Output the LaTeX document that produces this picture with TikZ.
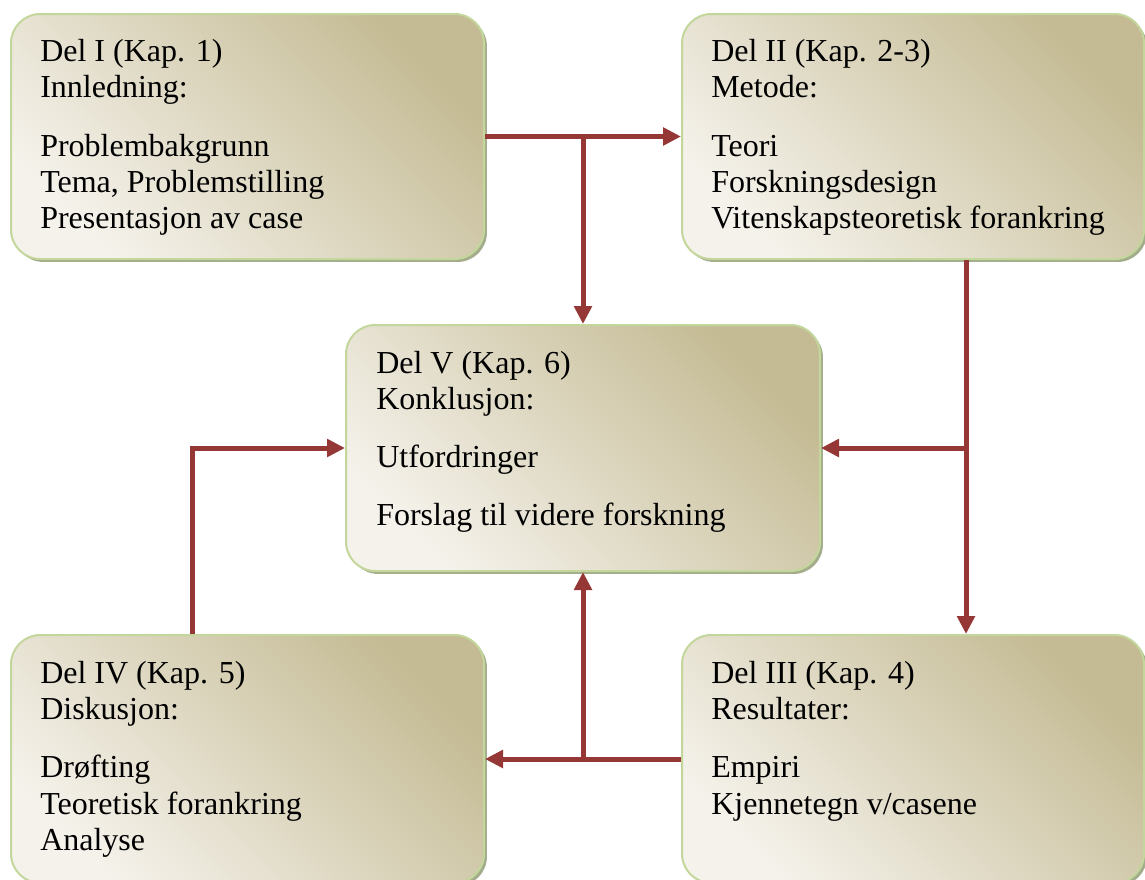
\documentclass[tikz,border=0pt]{standalone}
\usepackage{fontspec}
\setmainfont{Liberation Serif}
\usetikzlibrary{arrows.meta,shadows}
\definecolor{boxdark}{HTML}{C4BB94}
\definecolor{boxlight}{HTML}{F5F2EB}
\definecolor{boxedge}{HTML}{C3D69B}
\definecolor{boxshadow}{HTML}{A3AD8B}
\definecolor{arrowred}{HTML}{953735}
\tikzset{
  panel/.style={draw=boxedge, line width=1.5pt, rounded corners=22pt,
    top color=boxdark, bottom color=boxlight, shading angle=-45,
    drop shadow={shadow xshift=2.2pt, shadow yshift=-2.2pt, fill=boxshadow, opacity=1},
    inner sep=0pt, anchor=north west},
  txt/.style={anchor=base west, inner sep=0pt, font=\fontsize{24}{27}\selectfont},
  flow/.style={draw=arrowred, line width=3.75pt, -{Triangle[length=13.5pt,width=13pt]}}
}
\begin{document}
\begin{tikzpicture}[x=0.75pt,y=-0.75pt]
\useasboundingbox (0,0) rectangle (1145,879);
\clip (0,0) rectangle (1145,879);
% boxes
\node[panel, minimum width=354.75pt, minimum height=183.75pt] (b1) at (10,13) {};
\node[panel, minimum width=346.5pt, minimum height=183.75pt] (b2) at (681,13) {};
\node[panel, minimum width=355.5pt, minimum height=184.5pt] (b5) at (345,324) {};
\node[panel, minimum width=354.75pt, minimum height=186pt] (b4) at (10,634) {};
\node[panel, minimum width=346.5pt, minimum height=186pt] (b3) at (681,634) {};
% texts box I
\node[txt] (t1a) at (40,61) {Del I (Kap. 1)};
\node[txt] (t1b) at (40,97) {Innledning:};
\node[txt] (t1c) at (40,156) {Problembakgrunn};
\node[txt] (t1d) at (40,192) {Tema, Problemstilling};
\node[txt] (t1e) at (40,228) {Presentasjon av case};
% texts box II
\node[txt] (t2a) at (711,61) {Del II (Kap. 2-3)};
\node[txt] (t2b) at (711,97) {Metode:};
\node[txt] (t2c) at (711,156) {Teori};
\node[txt] (t2d) at (711,192) {Forskningsdesign};
\node[txt] (t2e) at (711,228) {Vitenskapsteoretisk forankring};
% texts box V
\node[txt] (t5a) at (376,373) {Del V (Kap. 6)};
\node[txt] (t5b) at (376,409) {Konklusjon:};
\node[txt] (t5c) at (376,467) {Utfordringer};
\node[txt] (t5d) at (376,525) {Forslag til videre forskning};
% texts box IV
\node[txt] (t4a) at (40,683) {Del IV (Kap. 5)};
\node[txt] (t4b) at (40,719) {Diskusjon:};
\node[txt] (t4c) at (40,777) {Drøfting};
\node[txt] (t4d) at (40,814) {Teoretisk forankring};
\node[txt] (t4e) at (40,850) {Analyse};
% texts box III
\node[txt] (t3a) at (711,683) {Del III (Kap. 4)};
\node[txt] (t3b) at (711,719) {Resultater:};
\node[txt] (t3c) at (711,777) {Empiri};
\node[txt] (t3d) at (711,814) {Kjennetegn v/casene};
% connectors
\coordinate (c2) at (966,448);
\coordinate (c4) at (192,448);
\draw[flow] (b1.east) -- (b2.west);
\draw[flow] (b1.east -| b5.north) -- (b5.north);
\draw[flow] (b2.south -| c2) -- (b3.north -| c2);
\draw[flow] (c2) -- (b5.east |- c2);
\draw[flow] (b3.west) -- (b4.east);
\draw[flow] (b3.west -| b5.south) -- (b5.south);
\draw[flow] (b4.north -| c4) |- (b5.west);
\end{tikzpicture}
\end{document}
